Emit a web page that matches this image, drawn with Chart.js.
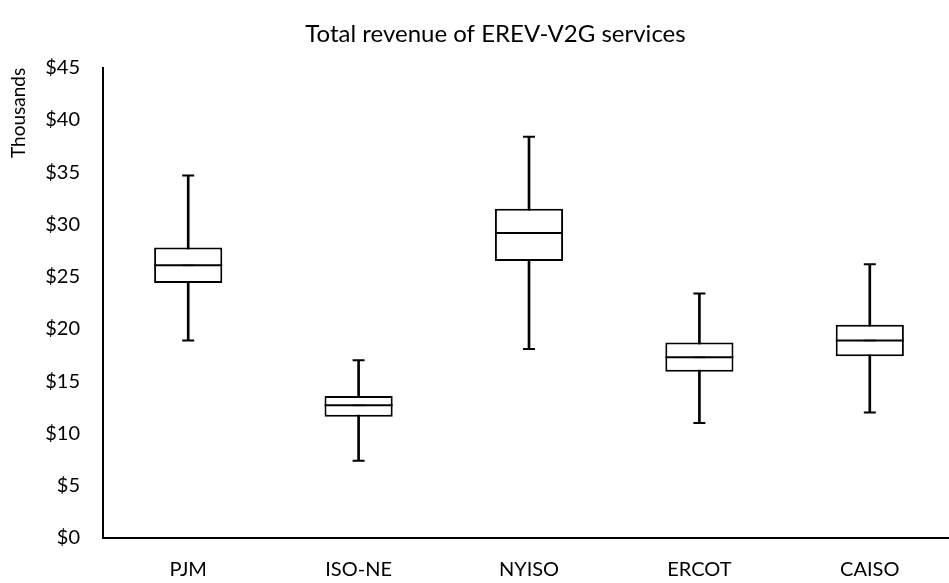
<!DOCTYPE html>
<html>
<head>
<meta charset="utf-8">
<title>Total revenue of EREV-V2G services</title>
<script src="https://cdn.jsdelivr.net/npm/chart.js@4"></script>
<style>
    body { margin: 0; overflow: hidden; background: #fff; }
</style>
</head>
<body>
<canvas id="boxChart" width="991" height="583"></canvas>
<script>
// Data (thousands of $)
const markets = ['PJM', 'ISO-NE', 'NYISO', 'ERCOT', 'CAISO'];
const minVals = [18.9, 7.4, 18.1, 11.0, 12.0];
const q1Vals = [24.4, 11.6, 26.5, 15.9, 17.4];
const medianVals = [26.1, 12.7, 29.2, 17.3, 18.9];
const meanVals = [26.1, 12.7, 29.2, 17.3, 18.9];
const q3Vals = [27.8, 13.6, 31.5, 18.7, 20.4];
const maxVals = [34.7, 17.0, 38.4, 23.4, 26.2];
const yTicks = [0, 5, 10, 15, 20, 25, 30, 35, 40, 45];

const FONT = 'Lato, "Open Sans", sans-serif';

// small helper for the horizontal marks (caps, median, mean)
function markSet(label, values, halfWidth, color) {
    return {
        type: 'line',
        label: label,
        data: values,
        showLine: false,
        pointStyle: 'line',
        pointRadius: halfWidth,
        pointHoverRadius: halfWidth,
        pointBorderWidth: 2,
        pointBorderColor: color,
        pointBackgroundColor: color,
        order: 1
    };
}

const ctx = document.getElementById('boxChart').getContext('2d');
new Chart(ctx, {
    type: 'bar',
    data: {
        labels: markets,
        datasets: [
            {
                label: 'whisker',
                data: markets.map((m, i) => [minVals[i], maxVals[i]]),
                backgroundColor: '#000',
                borderWidth: 0,
                barThickness: 2,
                grouped: false,
                order: 3
            },
            {
                label: 'box',
                data: markets.map((m, i) => [q1Vals[i], q3Vals[i]]),
                backgroundColor: '#fff',
                borderColor: '#000',
                borderWidth: 2,
                borderSkipped: false,
                barPercentage: 0.4,
                categoryPercentage: 1,
                grouped: false,
                order: 2
            },
            markSet('max', maxVals, 6, '#000'),
            markSet('min', minVals, 6, '#000'),
            markSet('median', medianVals, 34, '#000'),
            markSet('mean', meanVals, 6, '#808080')
        ]
    },
    options: {
        responsive: false,
        animation: false,
        layout: { padding: 0 },
        plugins: {
            legend: { display: false },
            tooltip: { enabled: false },
            title: {
                display: true,
                text: 'Total revenue of EREV-V2G services',
                color: '#000',
                font: { family: FONT, size: 24, weight: 'normal' },
                padding: { top: 20, bottom: 19 }
            }
        },
        scales: {
            x: {
                grid: { display: false, drawTicks: false },
                border: { display: true, color: '#000', width: 2 },
                ticks: {
                    color: '#000',
                    font: { family: FONT, size: 20 },
                    padding: 20
                },
                afterFit: function (scale) { scale.height = 45; }
            },
            y: {
                min: yTicks[0],
                max: yTicks[yTicks.length - 1],
                grid: { display: false, drawTicks: false },
                border: { display: true, color: '#000', width: 2 },
                afterBuildTicks: function (scale) {
                    scale.ticks = yTicks.map(v => ({ value: v }));
                },
                ticks: {
                    color: '#000',
                    font: { family: FONT, size: 20 },
                    padding: 23,
                    callback: v => '$' + v
                },
                title: {
                    display: true,
                    text: 'Thousands',
                    align: 'end',
                    color: '#000',
                    font: { family: FONT, size: 19 },
                    padding: { top: 7, bottom: 0 }
                },
                afterFit: function (scale) { scale.width = 103; }
            }
        }
    }
});
</script>
</body>
</html>
